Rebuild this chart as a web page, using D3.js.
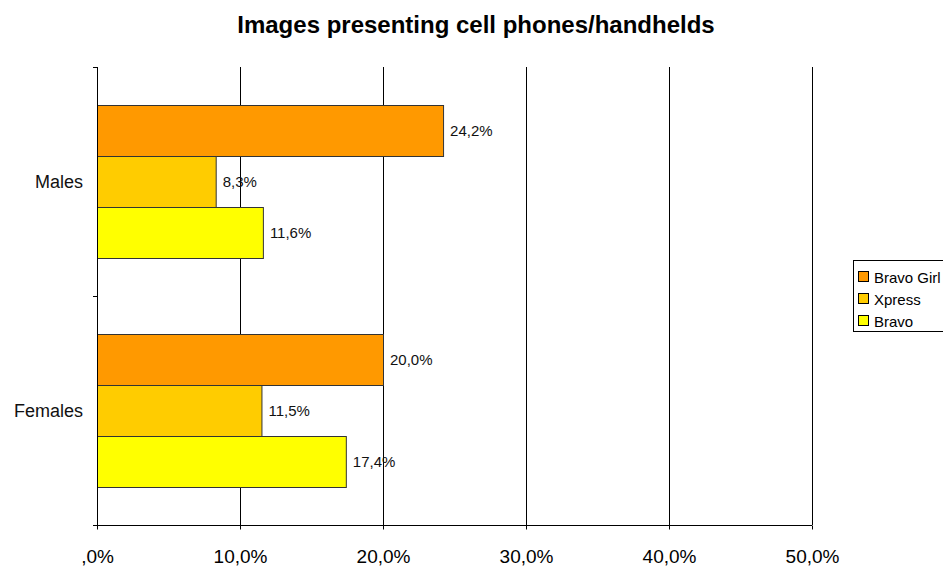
<!DOCTYPE html>
<html><head><meta charset="utf-8">
<script src="https://d3js.org/d3.v7.min.js"></script>
<style>body{margin:0;background:#fff}svg{display:block}</style>
</head><body>
<svg id="c" width="943" height="568"></svg>
<script>
const categories = ["Males", "Females"];
const seriesNames = ["Bravo Girl", "Xpress", "Bravo"];
const seriesColors = ["#FF9900", "#FFCC00", "#FFFF00"];
const bravoGirl = [24.2, 20.0];
const xpress = [8.3, 11.5];
const bravo = [11.6, 17.4];
const xTicks = [0, 10, 20, 30, 40, 50];
const title = "Images presenting cell phones/handhelds";

const values = [bravoGirl, xpress, bravo];
const svg = d3.select("#c");
const font = "Arial, 'Liberation Sans', sans-serif";
const L = 97, R = 812, T = 67, B = 525;
const fmt = v => v.toFixed(1).replace(".", ",") + "%";

const x = d3.scaleLinear().domain([0, 50]).range([L, R]);
const y = d3.scaleBand().domain(categories).range([T, B]).paddingInner(0).paddingOuter(0);
const inner = d3.scaleBand().domain(seriesNames)
  .range([(y.bandwidth() - 153) / 2, (y.bandwidth() + 153) / 2]).padding(0);

svg.append("text").attr("x", 476).attr("y", 33).attr("text-anchor", "middle")
  .attr("font-family", font).attr("font-weight", "bold").attr("font-size", 24).text(title);

// gridlines
svg.append("g").selectAll("line").data(xTicks.filter(d => d > 0)).join("line")
  .attr("x1", d => Math.round(x(d)) + 0.5).attr("x2", d => Math.round(x(d)) + 0.5)
  .attr("y1", T).attr("y2", B).attr("stroke", "#000").attr("stroke-width", 1);

// bars
categories.forEach((c, ci) => {
  seriesNames.forEach((s, si) => {
    const v = values[si][ci];
    const y0 = y(c) + inner(s);
    svg.append("rect").attr("x", x(0) + 0.5).attr("y", Math.round(y0) + 0.5)
      .attr("width", x(v) - x(0)).attr("height", Math.round(inner.bandwidth()))
      .attr("fill", seriesColors[si]).attr("stroke", "#333").attr("stroke-width", 1);
    svg.append("text").attr("x", x(v) + 7).attr("y", y0 + inner.bandwidth() / 2 + 5.5)
      .attr("font-family", font).attr("font-size", 15).attr("fill", "#111").text(fmt(v));
  });
});

// x axis
const xAxis = d3.axisBottom(x).tickValues(xTicks).tickSize(4).tickSizeOuter(0)
  .tickFormat(d => d === 0 ? ",0%" : fmt(d));
const gx = svg.append("g").attr("transform", `translate(0,${B + 0.5})`).call(xAxis);
gx.select(".domain").attr("d", `M${L - 4},0H${R}`);
gx.selectAll("text").attr("font-family", font).attr("font-size", 19).attr("fill", "#000")
  .attr("y", 37).attr("dy", 0);

// y axis
const yTickPos = [T, T + y.bandwidth(), B];
svg.append("line").attr("x1", L + 0.5).attr("x2", L + 0.5).attr("y1", T).attr("y2", B).attr("stroke", "#000");
svg.append("g").selectAll("line").data(yTickPos).join("line")
  .attr("x1", L - 4).attr("x2", L).attr("y1", d => d + 0.5).attr("y2", d => d + 0.5).attr("stroke", "#000");
svg.append("g").selectAll("text").data(categories).join("text")
  .attr("x", 83).attr("y", d => y(d) + y.bandwidth() / 2 + 6.5).attr("text-anchor", "end")
  .attr("font-family", font).attr("font-size", 18).attr("fill", "#111").text(d => d);

// legend
const lg = svg.append("g");
lg.append("rect").attr("x", 853.5).attr("y", 260.5).attr("width", 100).attr("height", 71)
  .attr("fill", "#fff").attr("stroke", "#000");
seriesNames.forEach((s, i) => {
  const yy = 277 + i * 22;
  lg.append("rect").attr("x", 858.5).attr("y", yy - 5.5).attr("width", 10).attr("height", 10)
    .attr("fill", seriesColors[i]).attr("stroke", "#000");
  lg.append("text").attr("x", 874).attr("y", yy + 5.5).attr("font-family", font).attr("font-size", 15).text(s);
});
</script>
</body></html>
